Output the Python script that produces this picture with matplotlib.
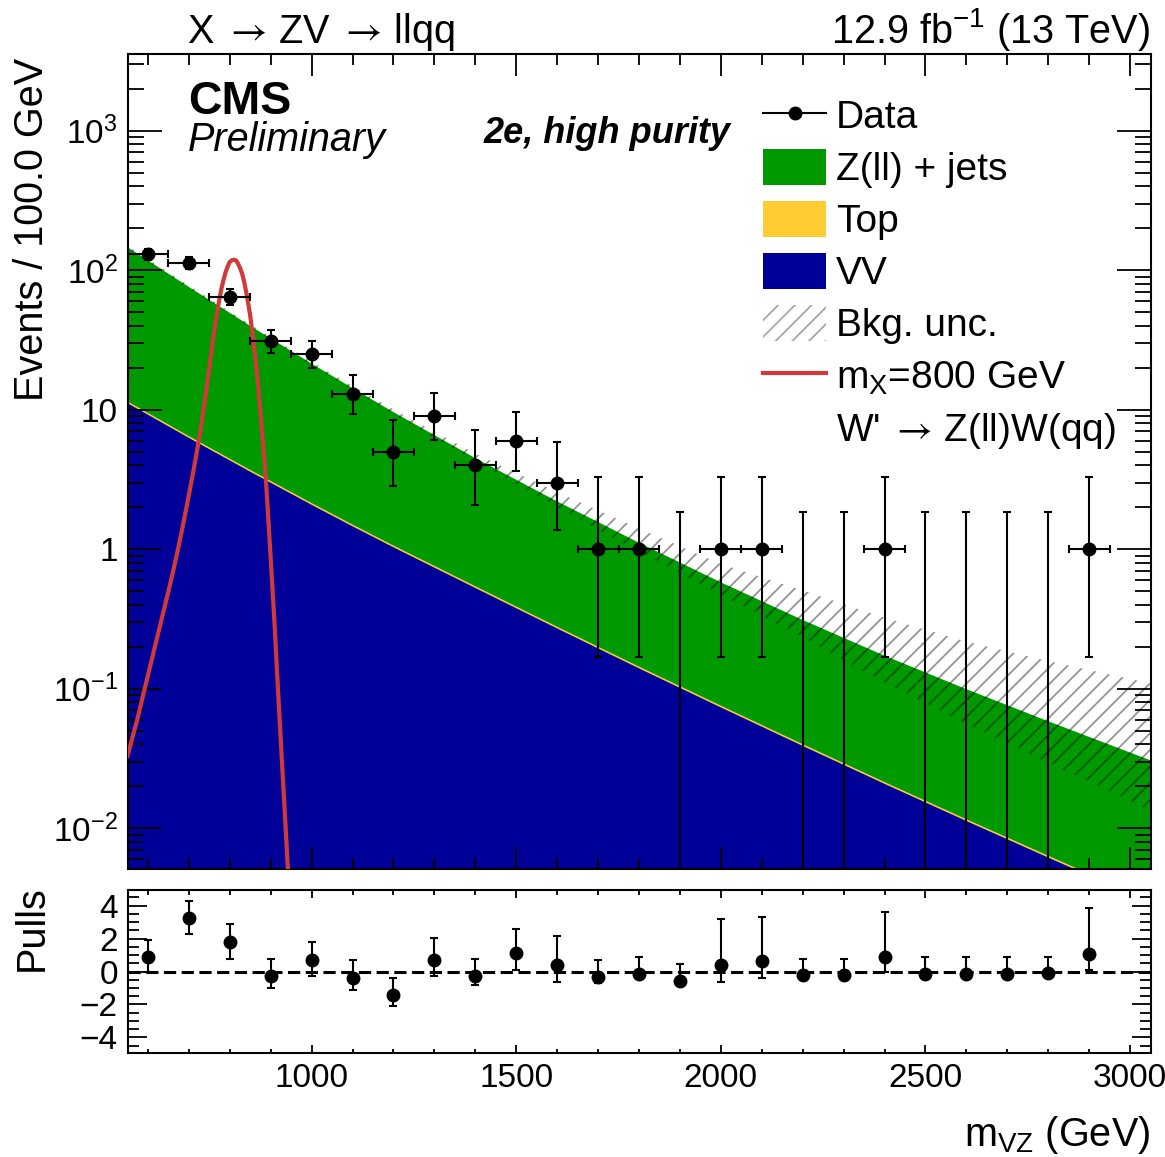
import numpy as np
import matplotlib
matplotlib.use('Agg')
import matplotlib.pyplot as plt
from matplotlib.lines import Line2D
from matplotlib.patches import Patch
from matplotlib.ticker import (FixedLocator, FixedFormatter, LogLocator,
                               MultipleLocator, NullFormatter)

plt.rcParams['font.family'] = ['Liberation Sans', 'DejaVu Sans']
plt.rcParams['mathtext.fontset'] = 'custom'
plt.rcParams['mathtext.rm'] = 'Liberation Sans'
plt.rcParams['mathtext.it'] = 'Liberation Sans:italic'
plt.rcParams['mathtext.bf'] = 'Liberation Sans:bold'
plt.rcParams['hatch.linewidth'] = 1.3

# ---------------- data ----------------
bin_centers = [600, 700, 800, 900, 1000, 1100, 1200, 1300, 1400, 1500, 1600, 1700,
               1800, 1900, 2000, 2100, 2200, 2300, 2400, 2500, 2600, 2700, 2800, 2900]
data_counts = [130, 112, 64, 31, 25, 13, 5, 9, 4, 6, 3, 1,
               1, 0, 1, 1, 0, 0, 1, 0, 0, 0, 0, 1]
data_err_lo = [11.4, 10.6, 8.0, 5.5, 5.0, 3.6, 2.16, 2.94, 1.91, 2.38, 1.63, 0.83,
               0.83, 0.0, 0.83, 0.83, 0.0, 0.0, 0.83, 0.0, 0.0, 0.0, 0.0, 0.83]
data_err_hi = [12.4, 11.6, 9.0, 6.6, 6.0, 4.7, 3.38, 4.11, 3.16, 3.58, 2.92, 2.30,
               2.30, 1.84, 2.30, 2.30, 1.84, 1.84, 2.30, 1.84, 1.84, 1.84, 1.84, 2.30]
bin_half_width = 50

# background model (read at these masses)
bkg_mass = [550, 700, 850, 1000, 1100, 1200, 1400, 1600, 1800, 2000, 2200, 2400, 2600,
            2800, 3050]
vv_vals = [11.2, 6.31, 3.61, 2.09, 1.466, 1.037, 0.530, 0.2716, 0.1406, 0.0738, 0.0391,
           0.0209, 0.01132, 0.00619, 0.00294]
top_vals = [0.34, 0.19, 0.108, 0.063, 0.044, 0.031, 0.016, 0.0081, 0.0042, 0.0022,
            0.00117, 0.00063, 0.00034, 0.00019, 0.000088]
zjets_vals = [135.46, 69.7, 36.38, 19.35, 12.84, 8.59, 3.974, 1.933, 0.974, 0.506,
              0.2723, 0.1519, 0.0881, 0.0524, 0.0278]
unc_hi_vals = [150.4, 78.0, 41.0, 22.1, 14.85, 10.07, 4.85, 2.57, 1.409, 0.785, 0.507,
               0.323, 0.218, 0.158, 0.1093]
unc_lo_vals = [143.7, 74.5, 39.2, 20.9, 13.86, 9.27, 4.27, 1.995, 0.964, 0.473, 0.2343,
               0.1107, 0.0561, 0.0295, 0.01344]

# signal m_X = 800 GeV
sig_mass = [550, 575, 600, 625, 650, 660, 670, 680, 690, 700, 710, 720, 730, 740, 745,
            750, 755, 760, 765, 770, 775, 780, 785, 790, 795, 800, 805, 810, 815,
            820, 825, 830, 835, 840, 845, 850, 855, 860, 865, 870, 875, 880, 885, 890,
            895, 900, 905, 910, 915, 920, 925, 930, 935, 940, 945]
sig_vals = [0.033, 0.062, 0.125, 0.25, 0.50, 0.667, 0.90, 1.24, 1.73, 2.45, 3.5, 5.1,
            7.7, 12.3, 15.8, 20.1, 26, 33.8, 42.5, 52, 63, 75, 86, 97.5, 107, 115, 118,
            119, 118, 112, 104, 95, 83, 70, 58, 47, 36, 27, 20, 14, 9.5, 6.2, 4.2, 2.6,
            1.5, 0.85, 0.48, 0.27, 0.14, 0.075, 0.04, 0.022, 0.012, 0.0065, 0.0035]

# pulls
pull_vals = [0.91, 3.23, 1.78, -0.26, 0.67, -0.38, -1.43, 0.71, -0.26, 1.11, 0.38, -0.34,
             -0.18, -0.55, 0.40, 0.61, -0.20, -0.20, 0.91, -0.14, -0.14, -0.14, -0.08, 1.07]
pull_top = [1.94, 4.26, 2.89, 0.77, 1.82, 0.67, -0.40, 2.04, 0.77, 2.57, 2.16, 0.67,
            0.87, 0.46, 3.19, 3.33, 0.77, 0.77, 3.64, 0.87, 0.87, 0.87, 0.87, 3.86]
pull_bottom = [0.0, 2.28, 0.77, -1.01, -0.30, -1.15, -2.08, -0.30, -0.81, 0.12, -0.61, -0.70,
               -0.42, -0.55, -0.61, -0.40, -0.20, -0.20, 0.0, -0.14, -0.14, -0.14, -0.08, 0.12]

y_ticks = [1e-2, 1e-1, 1, 10, 100, 1000]
y_ticklabels = [r'$10^{-2}$', r'$10^{-1}$', '1', '10', r'$10^{2}$', r'$10^{3}$']

# ---------------- style ----------------
c_green = '#009900'
c_yellow = '#ffcc33'
c_blue = '#000099'
c_red = '#d13a3a'
W, H = 1165, 1157
PX = 72.0 / 100.0  # points per pixel at dpi 100

fig = plt.figure(figsize=(W / 100, H / 100), dpi=100)
ax = fig.add_axes([127.5 / W, 1 - 869 / H, 1023 / W, 815 / H])
axp = fig.add_axes([127.5 / W, 1 - 1053 / H, 1023 / W, 163 / H])

# ---- main panel ----
x_b = np.array(bkg_mass, float)
s_vv = np.array(vv_vals)
s_top = s_vv + np.array(top_vals)
s_tot = s_top + np.array(zjets_vals)
floor = 1e-6
ax.fill_between(x_b, floor, s_tot, color=c_green, lw=0, zorder=1)
ax.fill_between(x_b, floor, s_top, color=c_yellow, lw=0, zorder=1.1)
ax.fill_between(x_b, floor, s_vv, color=c_blue, lw=0, zorder=1.2)
ax.fill_between(x_b, unc_lo_vals, unc_hi_vals, facecolor='none',
                edgecolor=(0, 0, 0, 0.42), hatch='//', lw=0, zorder=2)

ax.plot(sig_mass, sig_vals, color=c_red, lw=3.0, zorder=3)

xc = np.array(bin_centers, float)
n = np.array(data_counts, float)
elo = np.array(data_err_lo)
ehi = np.array(data_err_hi)
nz = n > 0
ax.errorbar(xc[nz], n[nz], yerr=[elo[nz], ehi[nz]], xerr=bin_half_width,
            fmt='o', color='k', ms=9, elinewidth=1.5, capsize=2.8, capthick=1.5, zorder=5)
z = ~nz
ybase = np.full(z.sum(), 1e-5)
ax.errorbar(xc[z], ybase, yerr=[np.zeros(z.sum()), ehi[z]], fmt='none', color='k',
            elinewidth=1.5, capsize=2.8, capthick=1.5, zorder=5)

ax.set_xlim(550, 3050)
ax.set_yscale('log')
ax.set_ylim(0.0051, 3556)
ax.xaxis.set_major_locator(MultipleLocator(500))
ax.xaxis.set_minor_locator(MultipleLocator(100))
ax.yaxis.set_major_locator(FixedLocator(y_ticks))
ax.yaxis.set_major_formatter(FixedFormatter(y_ticklabels))
ax.yaxis.set_minor_locator(LogLocator(base=10, subs=np.arange(2, 10), numticks=30))
ax.yaxis.set_minor_formatter(NullFormatter())
ax.tick_params(which='both', direction='in', top=True, right=True, labelbottom=False,
               width=1.3, labelsize=24, pad=7)
ax.tick_params(axis='x', which='major', length=22 * PX)
ax.tick_params(axis='x', which='minor', length=11 * PX)
ax.tick_params(axis='y', which='major', length=34 * PX)
ax.tick_params(axis='y', which='minor', length=16 * PX)
for sp in ax.spines.values():
    sp.set_linewidth(1.5)

handles = [
    Line2D([], [], color='k', marker='o', ms=9, lw=1.5),
    Patch(facecolor=c_green, edgecolor='none'),
    Patch(facecolor=c_yellow, edgecolor='none'),
    Patch(facecolor=c_blue, edgecolor='none'),
    Patch(facecolor='white', edgecolor=(0, 0, 0, 0.35), hatch='//', lw=0),
    Line2D([], [], color=c_red, lw=3.0),
    Patch(facecolor='none', edgecolor='none'),
]
labels = ['Data', 'Z(ll) + jets', 'Top', 'VV', 'Bkg. unc.', r'm$_{\rm X}$=800 GeV',
          r"W' $\rightarrow\,$Z(ll)W(qq)"]
leg = ax.legend(handles, labels, loc='upper left', bbox_to_anchor=(763 / W, 1 - 97 / H),
                bbox_transform=fig.transFigure, frameon=False, fontsize=28,
                handlelength=1.62, handleheight=1.05, handletextpad=0.26,
                labelspacing=0.326, borderpad=0, borderaxespad=0)
leg.get_texts()[6].set_math_fontfamily('stixsans')

# ---- pulls panel ----
pv = np.array(pull_vals)
pt = np.array(pull_top)
pb = np.array(pull_bottom)
axp.axhline(0, color='k', lw=2.2, dashes=(4.0, 1.8), zorder=2)
axp.errorbar(xc, pv, yerr=[pv - pb, pt - pv], fmt='o', color='k', ms=9,
             elinewidth=1.5, capsize=2.8, capthick=1.5, zorder=5)
axp.set_xlim(550, 3050)
axp.set_ylim(-4.95, 4.95)
axp.xaxis.set_major_locator(MultipleLocator(500))
axp.xaxis.set_minor_locator(MultipleLocator(100))
axp.yaxis.set_major_locator(FixedLocator([-4, -2, 0, 2, 4]))
axp.yaxis.set_minor_locator(MultipleLocator(0.5))
axp.tick_params(which='both', direction='in', top=True, right=True, width=1.3,
                labelsize=24, pad=7)
axp.tick_params(axis='x', which='major', length=8 * PX)
axp.tick_params(axis='x', which='minor', length=4.5 * PX)
axp.tick_params(axis='y', which='major', length=19 * PX)
axp.tick_params(axis='y', which='minor', length=11 * PX)
for sp in axp.spines.values():
    sp.set_linewidth(1.5)

# ---- texts ----
fig.text(187 / W, 1 - 43 / H, r'X $\rightarrow\,$ZV $\rightarrow\,$llqq', fontsize=28.5,
         ha='left', va='baseline', math_fontfamily='stixsans')
fig.text(1150 / W, 1 - 43 / H, r'12.9 fb$^{-1}$ (13 TeV)', fontsize=28.5,
         ha='right', va='baseline')
fig.text(188 / W, 1 - 114 / H, 'CMS', fontsize=33.5, fontweight='bold',
         ha='left', va='baseline')
fig.text(188 / W, 1 - 151 / H, 'Preliminary', fontsize=28.5, style='italic',
         ha='left', va='baseline')
fig.text(731 / W, 1 - 143 / H, '2e, high purity', fontsize=26, style='italic',
         fontweight='bold', ha='right', va='baseline')
fig.text(32 / W, 1 - 58 / H, 'Events / 100.0 GeV', fontsize=28.5, rotation=90,
         ha='center', va='top')
fig.text(32 / W, 1 - 885 / H, 'Pulls', fontsize=28.5, rotation=90,
         ha='center', va='top')
fig.text(1150 / W, 1 - 1146 / H, r'm$_{\rm VZ}$ (GeV)', fontsize=28.5,
         ha='right', va='baseline')

fig.savefig('out.png', dpi=100)
